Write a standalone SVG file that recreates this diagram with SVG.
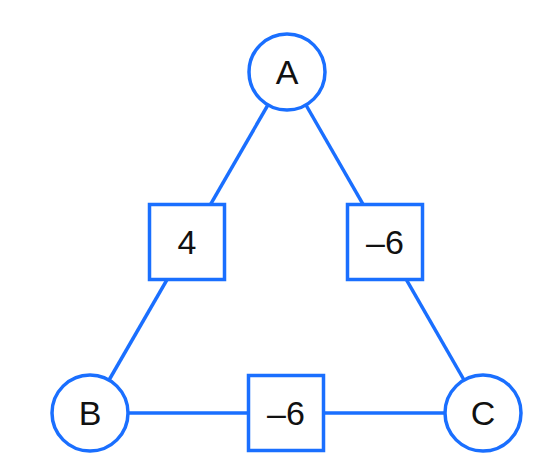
<svg xmlns="http://www.w3.org/2000/svg" width="560" height="466" viewBox="0 0 560 466">
<style>
.e{stroke:#1a6fff;stroke-width:3.5;fill:none}
.n{stroke:#1a6fff;stroke-width:3.5;fill:#fff}
.t{font-family:"Liberation Sans",Arial,sans-serif;font-size:34px;fill:#111;text-anchor:middle;dominant-baseline:central}
</style>
<rect width="560" height="466" fill="#fff"/>
<g id="connectors">
<line class="e" x1="287" y1="72" x2="90" y2="413"/>
<line class="e" x1="287" y1="72" x2="483" y2="413"/>
<line class="e" x1="90" y1="413" x2="483" y2="413"/>
</g>
<g id="A"><circle class="n" cx="287" cy="72" r="38"/><text class="t" x="287" y="72">A</text></g>
<g id="B"><circle class="n" cx="90" cy="413" r="38"/><text class="t" x="90" y="413">B</text></g>
<g id="C"><circle class="n" cx="483" cy="413" r="38"/><text class="t" x="483" y="413">C</text></g>
<g id="wAB"><rect class="n" x="149.5" y="204.5" width="75" height="75"/><text class="t" x="187" y="242">4</text></g>
<g id="wAC"><rect class="n" x="347.5" y="204.5" width="75" height="75"/><text class="t" x="385" y="242">–6</text></g>
<g id="wBC"><rect class="n" x="248.5" y="375.5" width="75" height="75"/><text class="t" x="286" y="413">–6</text></g>
</svg>
